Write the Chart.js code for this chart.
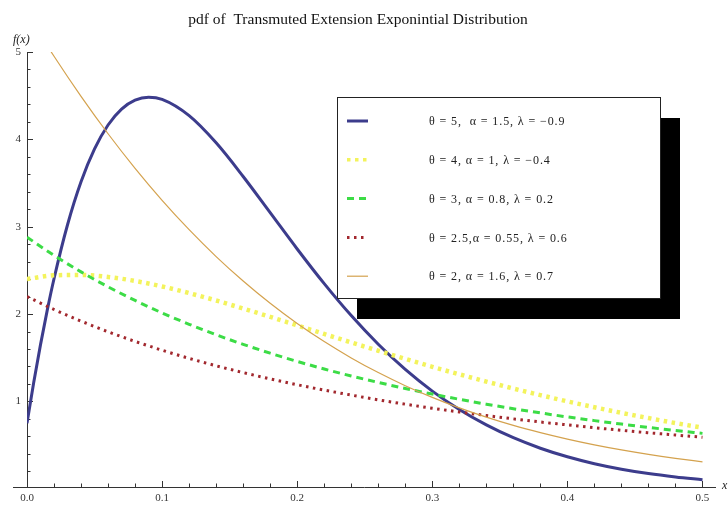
<!DOCTYPE html>
<html>
<head>
<meta charset="utf-8">
<script src="https://cdn.jsdelivr.net/npm/chart.js@4/dist/chart.umd.min.js"></script>
<style>
  html, body { margin: 0; padding: 0; background: #fff; }
  #wrap { width: 728px; height: 506px; position: relative; }
</style>
</head>
<body>
<div id="wrap"><canvas id="c"></canvas></div>
<script>
// ---- data ----
const chartTitle = 'pdf of  Transmuted Extension Exponintial Distribution';
const seriesLabels = [
  'θ = 5,  α = 1.5, λ = −0.9',
  'θ = 4, α = 1, λ = −0.4',
  'θ = 3, α = 0.8, λ = 0.2',
  'θ = 2.5,α = 0.55, λ = 0.6',
  'θ = 2, α = 1.6, λ = 0.7'
];
const xGrid = [0, 0.02, 0.04, 0.06, 0.08, 0.10, 0.12, 0.14, 0.16, 0.18, 0.20, 0.22, 0.24,
  0.26, 0.28, 0.30, 0.32, 0.34, 0.36, 0.38, 0.40, 0.42, 0.44, 0.46, 0.48, 0.50];
const blueX = [0, 0.005, 0.01, 0.015, 0.02, 0.03, 0.04, 0.05, 0.06, 0.07, 0.08, 0.09, 0.10,
  0.12, 0.14, 0.16, 0.18, 0.20, 0.22, 0.24, 0.26, 0.28, 0.30, 0.32, 0.34, 0.36, 0.38, 0.40,
  0.42, 0.44, 0.46, 0.48, 0.50];
const blueY = [0.75, 1.219, 1.650, 2.045, 2.404, 3.022, 3.514, 3.890, 4.164, 4.346, 4.448, 4.482, 4.457,
  4.271, 3.960, 3.575, 3.161, 2.745, 2.348, 1.982, 1.654, 1.366, 1.118, 0.907, 0.731, 0.584, 0.464, 0.366,
  0.287, 0.224, 0.174, 0.135, 0.103];
const yellowY = [2.400, 2.443, 2.448, 2.425, 2.379, 2.316, 2.240, 2.155, 2.063, 1.968, 1.870, 1.772, 1.675,
  1.580, 1.487, 1.396, 1.310, 1.227, 1.147, 1.072, 1.000, 0.933, 0.869, 0.809, 0.752, 0.699];
const greenY = [2.880, 2.672, 2.483, 2.312, 2.156, 2.013, 1.883, 1.763, 1.653, 1.552, 1.458, 1.371, 1.291,
  1.217, 1.148, 1.084, 1.024, 0.968, 0.916, 0.868, 0.822, 0.780, 0.740, 0.702, 0.667, 0.634];
const redY = [2.200, 2.052, 1.919, 1.797, 1.687, 1.586, 1.493, 1.408, 1.330, 1.258, 1.191, 1.129, 1.072,
  1.018, 0.968, 0.922, 0.879, 0.838, 0.800, 0.764, 0.731, 0.699, 0.669, 0.641, 0.615, 0.590];
const orangeY = [5.440, 4.951, 4.492, 4.064, 3.668, 3.302, 2.966, 2.658, 2.378, 2.123, 1.892, 1.685, 1.498,
  1.330, 1.180, 1.046, 0.926, 0.820, 0.725, 0.642, 0.568, 0.502, 0.444, 0.393, 0.348, 0.308];
const xTickValues = [0, 0.1, 0.2, 0.3, 0.4, 0.5];
const yTickValues = [1, 2, 3, 4, 5];

// ---- build datasets ----
const pts = (xs, ys) => xs.map((x, i) => ({ x: x, y: ys[i] }));
const styles = [
  { color: '#3c3c8c', width: 3, dash: [] },
  { color: '#f3f35c', width: 4.5, dash: [3.5, 4.5] },
  { color: '#3cdc46', width: 3, dash: [7, 5] },
  { color: '#a2282e', width: 3, dash: [2.5, 4.5] },
  { color: '#d4a24e', width: 1.2, dash: [] }
];
const series = [pts(blueX, blueY), pts(xGrid, yellowY), pts(xGrid, greenY), pts(xGrid, redY), pts(xGrid, orangeY)];
const datasets = series.map((d, i) => ({
  label: seriesLabels[i],
  data: d,
  borderColor: styles[i].color,
  backgroundColor: styles[i].color,
  borderWidth: styles[i].width,
  borderDash: styles[i].dash,
  pointRadius: 0,
  fill: false,
  cubicInterpolationMode: 'monotone',
  order: 5 - i
}));

// ---- axes in Mathematica style (ticks inward) ----
const axesPlugin = {
  id: 'mmaAxes',
  beforeDatasetsDraw(chart) {
    const { ctx, chartArea } = chart;
    const xs = chart.scales.x, ys = chart.scales.y;
    const x0 = xs.getPixelForValue(0);
    const yb = chartArea.bottom;
    ctx.save();
    ctx.strokeStyle = '#333';
    ctx.lineWidth = 1;
    ctx.beginPath();
    ctx.moveTo(13, yb + 0.5); ctx.lineTo(chartArea.right, yb + 0.5);
    ctx.moveTo(x0 + 0.5, yb); ctx.lineTo(x0 + 0.5, chartArea.top);
    // y ticks
    for (let k = 1; k <= 25; k++) {
      const v = k * 0.2;
      const py = Math.round(ys.getPixelForValue(v)) + 0.5;
      const major = k % 5 === 0;
      ctx.moveTo(x0, py); ctx.lineTo(x0 + (major ? 6 : 3.5), py);
    }
    // x ticks
    for (let k = 1; k <= 25; k++) {
      const v = k * 0.02;
      const px = Math.round(xs.getPixelForValue(v)) + 0.5;
      const major = k % 5 === 0;
      ctx.moveTo(px, yb); ctx.lineTo(px, yb - (major ? 6 : 3.5));
    }
    ctx.stroke();
    // axis labels
    ctx.fillStyle = '#222';
    ctx.font = 'italic 12px "Liberation Serif"';
    ctx.textBaseline = 'alphabetic';
    ctx.textAlign = 'left';
    ctx.fillText('f(x)', 13, 43);
    ctx.fillText('x', 722, 489);
    ctx.restore();
  }
};

// ---- framed legend with black drop shadow ----
const legendPlugin = {
  id: 'mmaLegend',
  afterDatasetsDraw(chart) {
    const { ctx } = chart;
    const bx = 337, by = 97, bw = 323, bh = 201, off = 20;
    ctx.save();
    ctx.fillStyle = '#000';
    ctx.fillRect(bx + off, by + off + 1, bw, bh);
    ctx.fillStyle = '#fff';
    ctx.fillRect(bx, by, bw, bh);
    ctx.strokeStyle = '#222';
    ctx.lineWidth = 1;
    ctx.strokeRect(bx + 0.5, by + 0.5, bw, bh);
    chart.data.datasets.forEach((ds, i) => {
      const y = by + 24 + i * 38.8;
      ctx.beginPath();
      ctx.strokeStyle = ds.borderColor;
      ctx.lineWidth = Math.min(ds.borderWidth, 3.5);
      ctx.setLineDash(ds.borderDash || []);
      ctx.moveTo(bx + 10, y); ctx.lineTo(bx + 31, y);
      ctx.stroke();
      ctx.setLineDash([]);
      ctx.fillStyle = '#222';
      ctx.font = '12px "Liberation Serif"';
      if ('letterSpacing' in ctx) ctx.letterSpacing = '0.9px';
      ctx.textBaseline = 'middle';
      ctx.textAlign = 'left';
      ctx.fillText(ds.label, bx + 92, y + 1);
      if ('letterSpacing' in ctx) ctx.letterSpacing = '0px';
    });
    ctx.restore();
  }
};

new Chart(document.getElementById('c'), {
  type: 'line',
  data: { datasets: datasets },
  options: {
    responsive: true,
    maintainAspectRatio: false,
    animation: false,
    layout: { padding: { left: 0, right: 12, top: 0, bottom: 0 } },
    plugins: {
      legend: { display: false },
      tooltip: { enabled: false },
      title: {
        display: true,
        text: chartTitle,
        color: '#111',
        font: { family: 'Liberation Serif', size: 15.5, weight: 'normal' },
        padding: { top: 11, bottom: 22.4 }
      }
    },
    scales: {
      x: {
        type: 'linear',
        min: 0,
        max: 0.51,
        afterBuildTicks: (s) => { s.ticks = xTickValues.map(v => ({ value: v })); },
        afterFit: (s) => { s.height = 19; },
        grid: { display: false, drawTicks: false },
        border: { display: false },
        ticks: {
          padding: 5,
          color: '#333',
          font: { family: 'Liberation Serif', size: 11 },
          maxRotation: 0,
          autoSkip: false,
          callback: (v) => Number(v).toFixed(1)
        }
      },
      y: {
        type: 'linear',
        min: 0.02,
        max: 5,
        afterBuildTicks: (s) => { s.ticks = yTickValues.map(v => ({ value: v })); },
        afterFit: (s) => { s.width = 27; },
        grid: { display: false, drawTicks: false },
        border: { display: false },
        ticks: {
          padding: 6,
          color: '#333',
          font: { family: 'Liberation Serif', size: 11 },
          autoSkip: false,
          callback: (v) => String(v)
        }
      }
    }
  },
  plugins: [axesPlugin, legendPlugin]
});
</script>
</body>
</html>
